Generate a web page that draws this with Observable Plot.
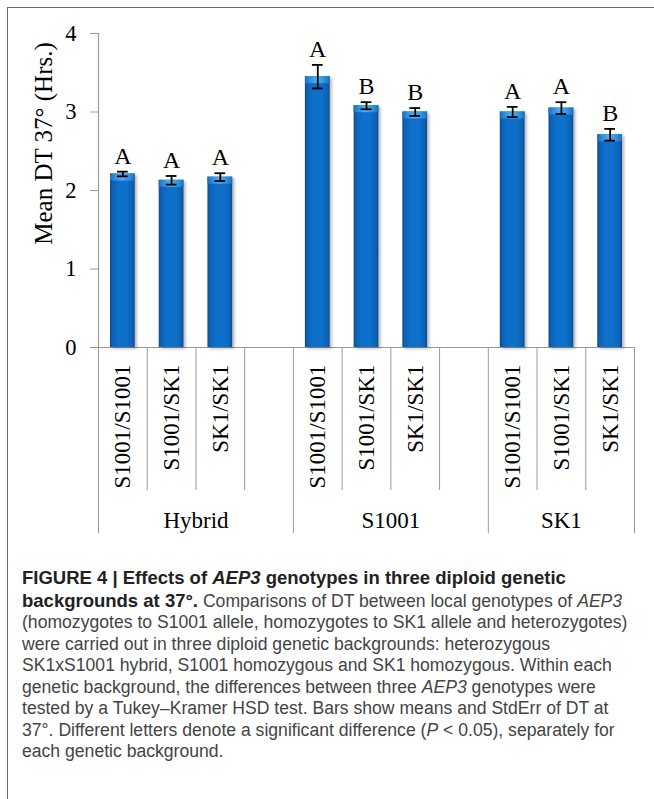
<!DOCTYPE html>
<html>
<head>
<meta charset="utf-8">
<script src="https://cdn.jsdelivr.net/npm/d3@7"></script>
<script src="https://cdn.jsdelivr.net/npm/@observablehq/plot@0.6"></script>
<style>
  html, body { margin: 0; padding: 0; background: #fff; }
  body { width: 654px; height: 799px; position: relative; overflow: hidden; }
  #frame {
    position: absolute; left: 6.5px; top: 6.5px; right: 0; bottom: 0;
    border-top: 1.3px solid #6a6a6a; border-left: 1.3px solid #6a6a6a;
    pointer-events: none;
  }
  #chart { position: absolute; left: 0; top: 0; }
  #caption {
    position: absolute; left: 22px; top: 567px;
    font-family: "Liberation Sans", Arial, sans-serif;
    font-size: 17.6px; line-height: 21.5px; color: #444;
    white-space: nowrap;
  }
  #caption b { font-size: 18.5px; color: #222; }
</style>
</head>
<body>
<div id="chart"></div>
<div id="frame"></div>
<div id="caption">
  <div><b>FIGURE 4 | Effects of <i>AEP3</i> genotypes in three diploid genetic</b></div>
  <div><b>backgrounds at 37°.</b> Comparisons of DT between local genotypes of <i>AEP3</i></div>
  <div>(homozygotes to S1001 allele, homozygotes to SK1 allele and heterozygotes)</div>
  <div>were carried out in three diploid genetic backgrounds: heterozygous</div>
  <div>SK1xS1001 hybrid, S1001 homozygous and SK1 homozygous. Within each</div>
  <div>genetic background, the differences between three <i>AEP3</i> genotypes were</div>
  <div>tested by a Tukey–Kramer HSD test. Bars show means and StdErr of DT at</div>
  <div>37°. Different letters denote a significant difference (<i>P</i> &lt; 0.05), separately for</div>
  <div>each genetic background.</div>
</div>
<script>
// Genetic backgrounds and AEP3 genotypes
const backgrounds = ["Hybrid", "S1001", "SK1"];
const genotypes = ["S1001/S1001", "S1001/SK1", "SK1/SK1"];

// Mean doubling time at 37° (hours), one array per background
const meanHybrid = [2.21, 2.13, 2.17];
const meanS1001 = [3.45, 3.08, 3.00];
const meanSK1 = [3.00, 3.05, 2.71];

// Standard errors
const seHybrid = [0.03, 0.055, 0.05];
const seS1001 = [0.15, 0.045, 0.05];
const seSK1 = [0.065, 0.075, 0.075];

// Tukey–Kramer HSD groupings
const lettersHybrid = ["A", "A", "A"];
const lettersS1001 = ["A", "B", "B"];
const lettersSK1 = ["A", "A", "B"];

const yTicks = [0, 1, 2, 3, 4];
const yTitle = "Mean DT 37° (Hrs.)";

const means = [meanHybrid, meanS1001, meanSK1];
const errors = [seHybrid, seS1001, seSK1];
const letters = [lettersHybrid, lettersS1001, lettersSK1];

// Each background occupies one slot per genotype, plus an empty spacer slot
// between backgrounds.
const slotsPerGroup = genotypes.length + 1;
const nSlots = backgrounds.length * slotsPerGroup - 1;

const rows = backgrounds.flatMap((bg, gi) =>
  genotypes.map((gt, i) => ({
    background: bg,
    genotype: gt,
    slot: gi * slotsPerGroup + i,
    mean: means[gi][i],
    se: errors[gi][i],
    letter: letters[gi][i]
  }))
);

const groupSpans = backgrounds.map((bg, gi) => {
  const start = gi * slotsPerGroup;
  const end = Math.min(start + slotsPerGroup, nSlots);
  return {name: bg, start, end, center: (start + end) / 2};
});
const groupEdges = [0, ...groupSpans.map(g => g.end)];
const slotEdges = d3.range(0, nSlots + 1).filter(e => !groupEdges.includes(e));

const serif = "'Liberation Serif', 'Times New Roman', serif";
const axisGray = "#9a9a9a";

const chart = Plot.plot({
  width: 654,
  height: 560,
  marginLeft: 98,
  marginRight: 20,
  marginTop: 33,
  marginBottom: 213,
  style: {fontFamily: serif, background: "transparent", color: "#000", overflow: "visible"},
  x: {type: "linear", domain: [0, nSlots]},
  y: {domain: [0, 4]},
  marks: [
    // category separators below the axis
    Plot.axisX(slotEdges, {tickSize: 143, tickFormat: () => "", stroke: axisGray}),
    Plot.axisX(groupEdges, {tickSize: 186, tickFormat: () => "", stroke: axisGray}),
    Plot.axisY(yTicks, {tickSize: 8, tickPadding: 14, tickFormat: d3.format("d"), fontSize: 22.5, stroke: axisGray, fill: "#000", label: null}),
    Plot.ruleY([0], {stroke: axisGray, strokeWidth: 1.2}),
    Plot.ruleX([0], {stroke: axisGray, strokeWidth: 1.2}),
    // bars with a lighter cap on top
    Plot.rectY(rows, {x1: "slot", x2: d => d.slot + 1, y: "mean", insetLeft: 12, insetRight: 12, fill: "url(#barBody)"}),
    Plot.rectY(rows, {x1: "slot", x2: d => d.slot + 1, y1: "mean", y2: "mean", insetLeft: 12, insetRight: 12, insetBottom: -7, fill: "url(#barCap)"}),
    // standard error bars
    Plot.ruleX(rows, {x: d => d.slot + 0.5, y1: d => d.mean - d.se, y2: d => d.mean + d.se, stroke: "#000", strokeWidth: 1.8}),
    Plot.ruleY(rows, {y: d => d.mean + d.se, x1: "slot", x2: d => d.slot + 1, insetLeft: 19, insetRight: 19, stroke: "#000", strokeWidth: 1.8}),
    Plot.ruleY(rows, {y: d => d.mean - d.se, x1: "slot", x2: d => d.slot + 1, insetLeft: 19, insetRight: 19, stroke: "#000", strokeWidth: 1.8}),
    // significance letters
    Plot.text(rows, {x: d => d.slot + 0.5, y: d => d.mean + d.se, text: "letter", lineAnchor: "bottom", dy: -8, fontSize: 24, fill: "#000"}),
    // genotype labels (rotated) and background labels
    Plot.text(rows, {x: d => d.slot + 0.5, frameAnchor: "bottom", text: "genotype", rotate: -90, textAnchor: "end", lineAnchor: "middle", dy: 17, fontSize: 23, fill: "#000"}),
    Plot.text(groupSpans, {x: "center", frameAnchor: "bottom", text: "name", lineAnchor: "bottom", dy: 180, fontSize: 23, fill: "#000"}),
    // y-axis title
    Plot.text([yTitle], {frameAnchor: "left", text: d => d, rotate: -90, textAnchor: "middle", lineAnchor: "middle", dx: -54.5, dy: -47, fontSize: 25, fill: "#000"})
  ]
});

// Gradients and soft shadow for the bars
const svg = d3.select(chart);
const defs = svg.insert("defs", ":first-child");
const body = defs.append("linearGradient").attr("id", "barBody").attr("x1", 0).attr("x2", 1).attr("y1", 0).attr("y2", 0);
[[0, "#0a4a8a"], [0.1, "#0b62b5"], [0.35, "#0b71cc"], [0.65, "#0b71cc"], [0.9, "#0b62b5"], [1, "#0a4a8a"]]
  .forEach(([o, c]) => body.append("stop").attr("offset", o).attr("stop-color", c));
const cap = defs.append("linearGradient").attr("id", "barCap").attr("x1", 0).attr("x2", 1).attr("y1", 0).attr("y2", 0);
[[0, "#1b6fb8"], [0.2, "#2f8fdc"], [0.5, "#56b0f0"], [0.8, "#2f8fdc"], [1, "#1b6fb8"]]
  .forEach(([o, c]) => cap.append("stop").attr("offset", o).attr("stop-color", c));
const shadow = defs.append("filter").attr("id", "barShadow").attr("x", "-20%").attr("y", "-5%").attr("width", "150%").attr("height", "115%");
shadow.append("feDropShadow").attr("dx", 2).attr("dy", 1.5).attr("stdDeviation", 1.6).attr("flood-color", "#000").attr("flood-opacity", 0.3);
svg.select("g[aria-label=rect]").attr("filter", "url(#barShadow)");

document.getElementById("chart").appendChild(chart);
</script>
</body>
</html>
